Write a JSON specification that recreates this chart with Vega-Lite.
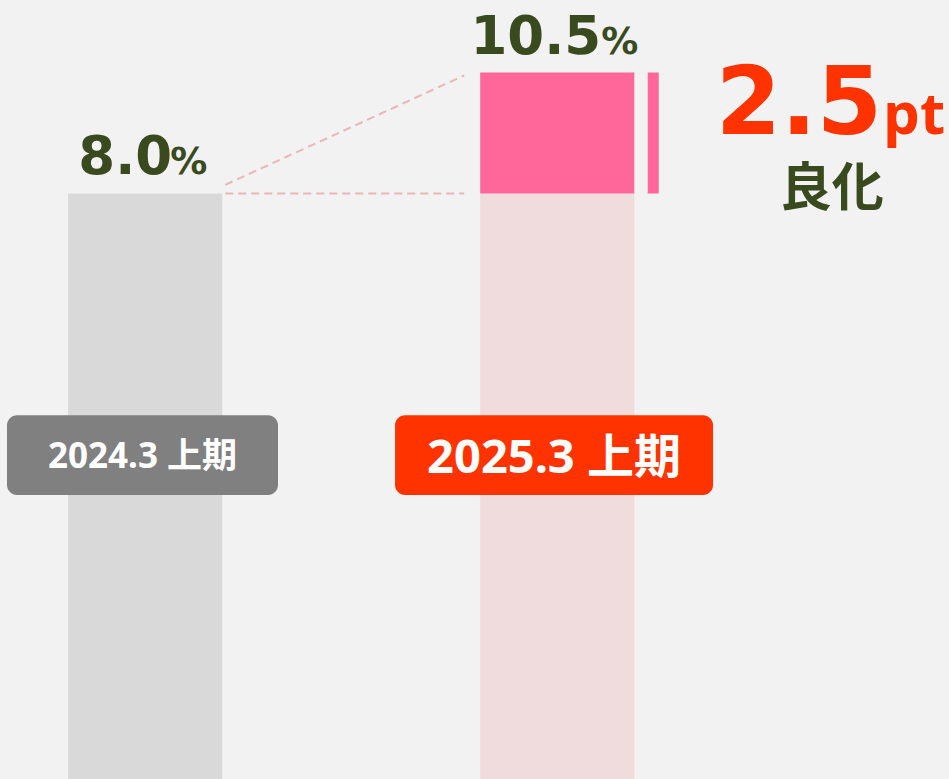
{
  "$schema": "https://vega.github.io/schema/vega-lite/v6.json",
  "width": 949,
  "height": 779,
  "autosize": {"type": "fit", "contains": "padding"},
  "padding": 0,
  "background": "#f2f2f2",
  "config": {
    "view": {"stroke": null},
    "text": {"font": "Noto Sans, Noto Sans CJK JP", "fontWeight": "bold"}
  },
  "datasets": {
    "bars": [
      {"period": "2024.3 上期", "kind": "prev", "value": 8.0, "from": null},
      {"period": "2025.3 上期", "kind": "base", "value": 8.0, "from": null},
      {"period": "2025.3 上期", "kind": "gain", "value": 10.5, "from": 8.0}
    ],
    "labels": [
      {"period": "2024.3 上期", "rate": 8.0, "num": "8.0", "unit": "%"},
      {"period": "2025.3 上期", "rate": 10.5, "num": "10.5", "unit": "%"}
    ],
    "diff": [
      {"period": "2025.3 上期", "from": 8.0, "to": 10.5, "num": "2.5", "unit": "pt", "word": "良化"}
    ],
    "links": [
      {"from": "2024.3 上期", "to": "2025.3 上期", "start": 8.18, "end": 10.44},
      {"from": "2024.3 上期", "to": "2025.3 上期", "start": 8.0, "end": 8.0}
    ]
  },
  "layer": [
    {
      "data": {"name": "bars"},
      "transform": [{"filter": "datum.kind != 'gain'"}],
      "mark": {"type": "bar"},
      "encoding": {
        "x": {"field": "period", "type": "nominal", "axis": null,
              "scale": {"type": "band", "domain": ["2024.3 上期", "2025.3 上期"], "paddingInner": 0.626, "paddingOuter": 0.4646, "align": 0.178}},
        "y": {"field": "value", "type": "quantitative", "axis": null,
              "scale": {"domain": [-4.1, 12], "nice": false, "zero": false}},
        "y2": {"datum": -4.1},
        "color": {"field": "kind", "type": "nominal", "legend": null,
                  "scale": {"domain": ["prev", "base", "gain"], "range": ["#d9d9d9", "#f0dcdc", "#ff6699"]}}
      }
    },
    {
      "data": {"name": "bars"},
      "transform": [{"filter": "datum.kind == 'gain'"}],
      "mark": {"type": "bar"},
      "encoding": {
        "x": {"field": "period", "type": "nominal", "axis": null},
        "y": {"field": "value", "type": "quantitative", "axis": null},
        "y2": {"field": "from"},
        "color": {"field": "kind", "type": "nominal", "legend": null}
      }
    },
    {
      "data": {"name": "links"},
      "mark": {"type": "rule", "strokeDash": [8, 5], "strokeWidth": 2, "color": "#ebb5b5", "xOffset": 3, "x2Offset": -16},
      "encoding": {
        "x": {"field": "from", "type": "nominal", "axis": null, "bandPosition": 1},
        "x2": {"field": "to", "bandPosition": 0},
        "y": {"field": "start", "type": "quantitative", "axis": null},
        "y2": {"field": "end"}
      }
    },
    {
      "data": {"name": "diff"},
      "mark": {"type": "rule", "strokeWidth": 11, "color": "#ff6699", "xOffset": 96},
      "encoding": {
        "x": {"field": "period", "type": "nominal", "axis": null},
        "y": {"field": "from", "type": "quantitative", "axis": null},
        "y2": {"field": "to"}
      }
    },
    {
      "data": {"name": "labels"},
      "transform": [{"filter": "datum.period == '2024.3 上期'"}],
      "mark": {"type": "text", "align": "right", "baseline": "alphabetic", "fontSize": 53, "font": "DejaVu Sans", "color": "#3a4a1f", "dx": 27, "dy": -20},
      "encoding": {
        "x": {"field": "period", "type": "nominal", "axis": null},
        "y": {"field": "rate", "type": "quantitative", "axis": null},
        "text": {"field": "num"}
      }
    },
    {
      "data": {"name": "labels"},
      "transform": [{"filter": "datum.period == '2024.3 上期'"}],
      "mark": {"type": "text", "align": "left", "baseline": "alphabetic", "fontSize": 37, "font": "DejaVu Sans", "color": "#3a4a1f", "dx": 25, "dy": -20},
      "encoding": {
        "x": {"field": "period", "type": "nominal", "axis": null},
        "y": {"field": "rate", "type": "quantitative", "axis": null},
        "text": {"field": "unit"}
      }
    },
    {
      "data": {"name": "labels"},
      "transform": [{"filter": "datum.period == '2025.3 上期'"}],
      "mark": {"type": "text", "align": "right", "baseline": "alphabetic", "fontSize": 53, "font": "DejaVu Sans", "color": "#3a4a1f", "dx": 44, "dy": -18.6},
      "encoding": {
        "x": {"field": "period", "type": "nominal", "axis": null},
        "y": {"field": "rate", "type": "quantitative", "axis": null},
        "text": {"field": "num"}
      }
    },
    {
      "data": {"name": "labels"},
      "transform": [{"filter": "datum.period == '2025.3 上期'"}],
      "mark": {"type": "text", "align": "left", "baseline": "alphabetic", "fontSize": 37, "font": "DejaVu Sans", "color": "#3a4a1f", "dx": 44, "dy": -18.6},
      "encoding": {
        "x": {"field": "period", "type": "nominal", "axis": null},
        "y": {"field": "rate", "type": "quantitative", "axis": null},
        "text": {"field": "unit"}
      }
    },
    {
      "data": {"name": "diff"},
      "mark": {"type": "text", "align": "right", "baseline": "alphabetic", "fontSize": 94, "font": "DejaVu Sans", "color": "#ff3300", "dx": 325, "dy": 61.7},
      "encoding": {
        "x": {"field": "period", "type": "nominal", "axis": null},
        "y": {"field": "to", "type": "quantitative", "axis": null},
        "text": {"field": "num"}
      }
    },
    {
      "data": {"name": "diff"},
      "mark": {"type": "text", "align": "left", "baseline": "alphabetic", "fontSize": 58, "color": "#ff3300", "dx": 326, "dy": 61.7},
      "encoding": {
        "x": {"field": "period", "type": "nominal", "axis": null},
        "y": {"field": "to", "type": "quantitative", "axis": null},
        "text": {"field": "unit"}
      }
    },
    {
      "data": {"name": "diff"},
      "mark": {"type": "text", "align": "center", "baseline": "alphabetic", "fontSize": 52, "color": "#3a4a1f", "dx": 274.5, "dy": 133.4, "font": "Noto Sans CJK JP"},
      "encoding": {
        "x": {"field": "period", "type": "nominal", "axis": null},
        "y": {"field": "to", "type": "quantitative", "axis": null},
        "text": {"field": "word"}
      }
    },
    {
      "data": {"name": "labels"},
      "transform": [{"filter": "datum.period == '2024.3 上期'"}],
      "mark": {"type": "bar", "width": 271, "cornerRadius": 10, "color": "#808080", "xOffset": -2.7},
      "encoding": {
        "x": {"field": "period", "type": "nominal", "axis": null},
        "y": {"datum": 3.42, "type": "quantitative", "axis": null},
        "y2": {"datum": 1.77}
      }
    },
    {
      "data": {"name": "labels"},
      "transform": [{"filter": "datum.period == '2025.3 上期'"}],
      "mark": {"type": "bar", "width": 318, "cornerRadius": 10, "color": "#ff3300", "xOffset": -3.2},
      "encoding": {
        "x": {"field": "period", "type": "nominal", "axis": null},
        "y": {"datum": 3.42, "type": "quantitative", "axis": null},
        "y2": {"datum": 1.77}
      }
    },
    {
      "data": {"name": "labels"},
      "transform": [{"filter": "datum.period == '2024.3 上期'"}],
      "mark": {"type": "text", "align": "center", "baseline": "alphabetic", "fontSize": 35, "color": "#ffffff", "dx": -2.7, "dy": 12.7},
      "encoding": {
        "x": {"field": "period", "type": "nominal", "axis": null},
        "y": {"datum": 2.596, "type": "quantitative", "axis": null},
        "text": {"field": "period"}
      }
    },
    {
      "data": {"name": "labels"},
      "transform": [{"filter": "datum.period == '2025.3 上期'"}],
      "mark": {"type": "text", "align": "center", "baseline": "alphabetic", "fontSize": 47, "color": "#ffffff", "dx": -3.2, "dy": 18.3},
      "encoding": {
        "x": {"field": "period", "type": "nominal", "axis": null},
        "y": {"datum": 2.596, "type": "quantitative", "axis": null},
        "text": {"field": "period"}
      }
    }
  ]
}
